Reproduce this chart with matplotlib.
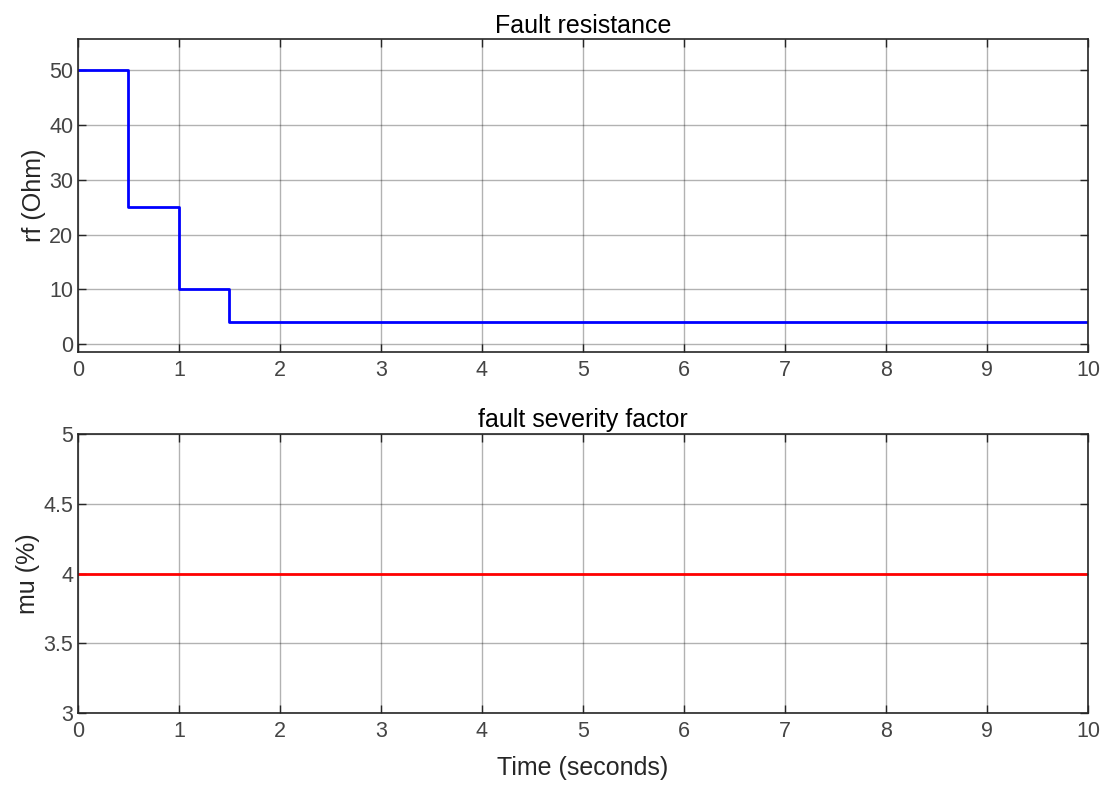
import matplotlib
matplotlib.use("Agg")
import matplotlib.pyplot as plt

# step changes of the fault resistance
t_rf = [0, 0.5, 1.0, 1.5, 10]
rf = [50, 25, 10, 4, 4]

# severity factor stays flat
t_mu = [0, 10]
mu = [4, 4]

plt.rcParams["font.family"] = ["Liberation Sans", "DejaVu Sans"]
txt = "#262626"

fig = plt.figure(figsize=(11.11, 7.85), dpi=100)
ax1 = fig.add_axes([0.0702, 0.5516, 0.9091, 0.3981])
ax2 = fig.add_axes([0.0702, 0.0917, 0.9091, 0.3554])

ax1.step(t_rf, rf, where="post", color="#0000ff", lw=2)
ax1.set_xlim(0, 10)
ax1.set_ylim(-1.4, 55.6)
ax1.set_yticks([0, 10, 20, 30, 40, 50])
ax1.set_title("Fault resistance", fontsize=18, color="#000000", pad=5)
ax1.set_ylabel("rf (Ohm)", fontsize=18, color=txt, labelpad=2)

ax2.plot(t_mu, mu, color="#ff0000", lw=2)
ax2.set_xlim(0, 10)
ax2.set_ylim(3, 5)
ax2.set_yticks([3, 3.5, 4, 4.5, 5])
ax2.set_yticklabels(["3", "3.5", "4", "4.5", "5"])
ax2.set_title("fault severity factor", fontsize=18, color="#000000", pad=5)
ax2.set_ylabel("mu (%)", fontsize=18, color=txt, labelpad=2)
ax2.set_xlabel("Time (seconds)", fontsize=18, color=txt, labelpad=10)

for ax in (ax1, ax2):
    ax.set_xticks(range(0, 11))
    ax.grid(True, color="#000000", alpha=0.3, lw=1)
    ax.tick_params(direction="in", top=True, right=True, length=6, width=1,
                   labelsize=15.5, labelcolor="#444444", color="#262626")
    ax.tick_params(axis="x", pad=6)
    for s in ax.spines.values():
        s.set_color("#262626")
        s.set_linewidth(1.2)

fig.savefig("out.png", dpi=100)
